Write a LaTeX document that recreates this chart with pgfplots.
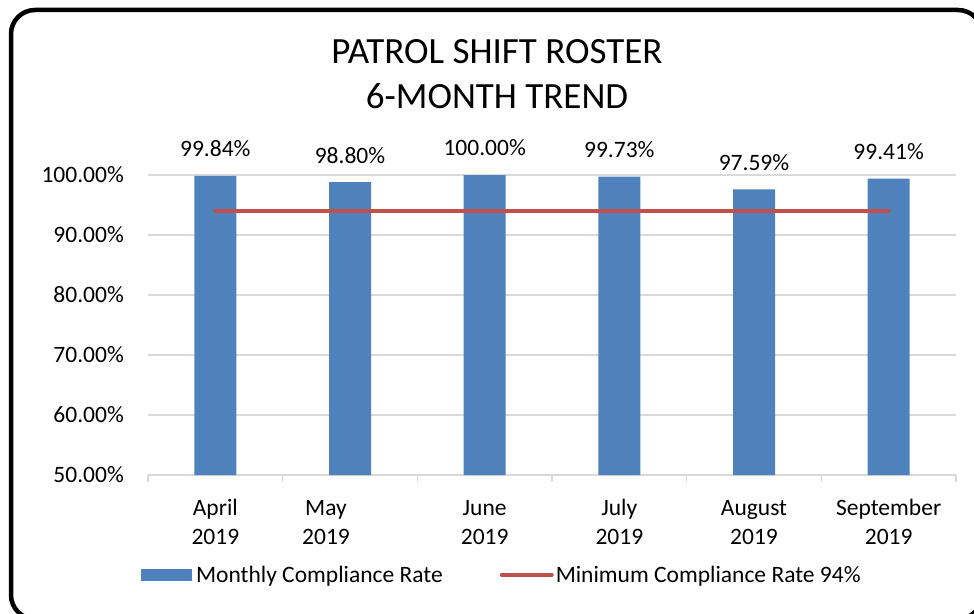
\documentclass[border=0pt]{standalone}
\usepackage{pgfplots}
\pgfplotsset{compat=1.18}
\usepackage{fontspec}
\setmainfont{Carlito}
\definecolor{barblue}{HTML}{4F81BD}
\definecolor{linered}{HTML}{C0504D}
\definecolor{gridgray}{HTML}{D9D9D9}
\begin{document}
\begin{tikzpicture}[x=1pt,y=1pt]
\draw[line width=4.5pt, rounded corners=24pt] (11,-6) rectangle (982,603);
\node[anchor=base, font=\fontsize{37}{43}\selectfont] at (497,549) {PATROL SHIFT ROSTER};
\node[anchor=base, font=\fontsize{37}{43}\selectfont] at (497,504) {6-MONTH TREND};
\begin{axis}[
  at={(148pt,138pt)}, anchor=south west,
  width=808pt, height=300pt, scale only axis,
  xmin=-0.5, xmax=5.5, ymin=50, ymax=100,
  ytick={50,60,...,100},
  xtick={0,...,5},
  xticklabels={{\strut April\\2019},{\strut May\hspace*{48pt}\\2019\hspace*{48pt}},{\strut June\\2019},{\strut July\\2019},{\strut August\\2019},{\strut September\\2019}},
  minor xtick={-0.5,0.5,...,5.5},
  major tick length=0pt, minor tick length=7pt,
  tick align=outside, tick pos=left,
  minor tick style={gridgray, line width=1.3pt},
  ymajorgrids, major grid style={gridgray, line width=1.3pt},
  axis lines*=left,
  x axis line style={gridgray, line width=1.3pt},
  y axis line style={draw=none},
  /pgf/number format/assume math mode=true,
  yticklabel={\pgfmathprintnumber[fixed,fixed zerofill,precision=2]{\tick}\%},
  yticklabel style={font=\fontsize{23.5}{28}\selectfont, inner sep=0pt, xshift=-24pt},
  xticklabel style={font=\fontsize{23.5}{29}\selectfont, align=center, inner sep=0pt, yshift=-20pt},
  legend columns=2,
  legend style={at={(axis description cs:-0.011,-0.333)}, anchor=west, draw=none, fill=none, inner sep=0pt, outer sep=0pt, font=\fontsize{23.5}{28}\selectfont, /tikz/every even column/.append style={column sep=55pt}},
  legend cell align=left,
]
\addplot[ybar, bar width=42pt, fill=barblue, draw=none,
  nodes near coords={\pgfmathprintnumber[fixed,fixed zerofill,precision=2]{\pgfplotspointmeta}\%},
  every node near coord/.append style={anchor=base, yshift=19pt, inner sep=0pt, font=\fontsize{23.5}{28}\selectfont, text=black},
  legend image code/.code={\path (0pt,0pt) -- (55pt,0pt); \fill[barblue] (2pt,-6pt) rectangle (53pt,6pt);}]
  coordinates {(0,99.84) (1,98.80) (2,100.00) (3,99.73) (4,97.59) (5,99.41)};
\addlegendentry{Monthly Compliance Rate}
\addplot[sharp plot, color=linered, line width=4pt, line cap=round, mark=none,
  legend image code/.code={\draw[linered, line width=4pt, line cap=round] (2pt,0pt) -- (52pt,0pt);}]
  coordinates {(0,94) (1,94) (2,94) (3,94) (4,94) (5,94)};
\addlegendentry{Minimum Compliance Rate 94\%}
\end{axis}
\pgfresetboundingbox
\useasboundingbox (0,0) rectangle (974,613);
\end{tikzpicture}
\end{document}
